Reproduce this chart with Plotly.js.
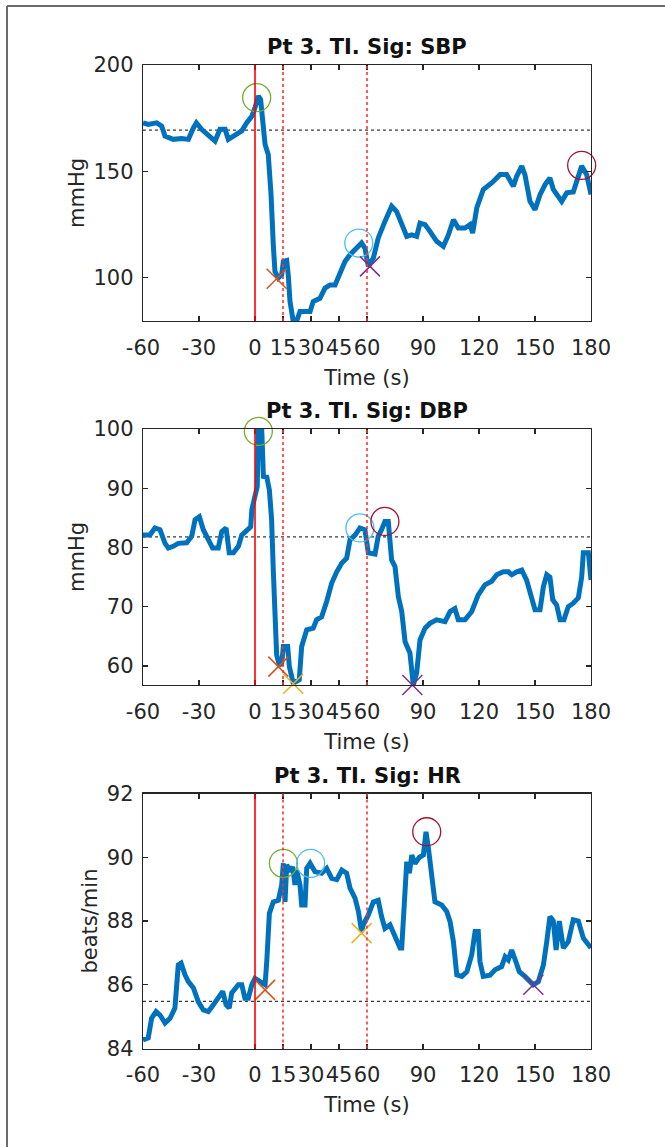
<!DOCTYPE html>
<html>
<head>
<meta charset="utf-8">
<script src="https://cdn.plot.ly/plotly-3.0.1.min.js"></script>
<style>
  html, body { margin: 0; padding: 0; background: #ffffff; }
  #chart { width: 665px; height: 1147px; }
</style>
</head>
<body>
<div id="chart"></div>
<script>
// ---------------- DATA ----------------
const xTickVals = [-60, -30, 0, 15, 30, 45, 60, 90, 120, 150, 180];
const xTickText = ['-60', '-30', '0', '15', '30', '45', '60', '90', '120', '150', '180'];
const xAxisTitle = 'Time (s)';

const panelTitles = ['Pt 3. TI. Sig: SBP', 'Pt 3. TI. Sig: DBP', 'Pt 3. TI. Sig: HR'];
const yAxisTitles = ['mmHg', 'mmHg', 'beats/min'];
const yRanges = [[79.5, 200], [56.8, 100], [84, 92]];
const yTickVals = [[100, 150, 200], [60, 70, 80, 90, 100], [84, 86, 88, 90, 92]];

// event lines (s)
const eventStart = 0;
const eventWindows = [15, 60];
// baseline levels
const baselines = [169.3, 81.8, 85.48];

// SBP
const sbpTime = [-60, -57.2, -52.7, -50, -48.2, -43.8, -39.3, -35.7, -33, -31.4,
  -28.6, -23.2, -21.4, -18.75, -16, -14.3, -9.8, -7.1, -4.4, -1.7,
  0, 1.8, 3.0, 4.1, 5.4, 7.1, 8.6, 9.8, 10.7, 12.5,
  14.3, 15.2, 17, 17.8, 18.75, 20.5, 22.3, 24.1, 26.8, 29.5,
  31.2, 34.8, 37.5, 40.2, 42.9, 45.5, 48.2, 50.9, 54.5, 57.1,
  58.9, 60.7, 63.4, 66, 69.6, 73.2, 75.9, 78.6, 81.3, 83.9,
  86.6, 88.4, 91.1, 93.7, 97.3, 100.9, 103.6, 106.3, 108.9, 112.5,
  115.2, 116.6, 118.8, 122.3, 126.8, 131.3, 134.8, 138.4, 140.2, 142.9,
  144.6, 147.3, 150, 152.7, 155.4, 158, 159.8, 164.3, 167, 170.5,
  173.2, 175, 177.7, 180];
const sbpValue = [172.8, 172, 172.8, 171.2, 166.5, 165, 165.4, 165, 170.4, 172.8,
  169.7, 165, 164.2, 169.7, 169.7, 165, 167.3, 169, 172.8, 175.9,
  179.9, 185.4, 183.8, 172, 162.6, 157.9, 139, 115.4, 102.8, 99.7,
  101.3, 107.5, 108, 101.3, 88.7, 79.2, 79.5, 84, 84, 84,
  88.7, 90.2, 95, 96.5, 96.5, 101.3, 107.5, 110.7, 113.8, 116.2,
  113.8, 105.2, 109.1, 118.5, 126.4, 133.5, 131, 124.9, 119.3, 120,
  119.3, 125.6, 124.9, 121.7, 117, 114.6, 120, 127.2, 123.3, 123.3,
  124.9, 120.9, 132.7, 141.4, 144.5, 148.4, 148.4, 142.9, 147.6, 152.4,
  148.4, 135.8, 131.9, 139, 143.7, 146.8, 141.4, 135.8, 139.8, 140.2,
  148.4, 152.4, 148.4, 139];

// DBP
const dbpTime = [-60, -56.3, -53.6, -50.9, -48.2, -46.4, -43.8, -41.1, -36.6, -33.9,
  -32.1, -29.8, -27.7, -25, -22.7, -19.7, -17.8, -15.5, -13.8, -11.6,
  -8.9, -7.1, -4.4, -2.3, -1.7, 0, 1.2, 1.8, 3.6, 4.5,
  6.3, 7.7, 8.9, 9.8, 10.7, 11.6, 13, 14.3, 15.2, 17.5,
  18.4, 20.5, 23.7, 25, 27.7, 31.2, 33, 35.7, 38.4, 41.1,
  43.8, 46.5, 49.1, 50.9, 53.6, 56.2, 58.9, 60.7, 64.3, 66,
  67.8, 69.6, 71.4, 73.2, 75, 76.8, 78.6, 80.4, 83, 84.8,
  86.6, 88.4, 91.1, 93.7, 97.3, 101.8, 104.5, 107.1, 108.9, 112.5,
  116.1, 119.6, 123.2, 126.8, 129.5, 133, 135.7, 137.5, 140.2, 142.9,
  145.5, 148.2, 150, 152.7, 154.5, 156.3, 158, 159.5, 161.6, 163.4,
  165.5, 167.8, 170.5, 173.2, 175, 175.9, 178.6, 180];
const dbpValue = [82.1, 82.1, 83.3, 83, 80.7, 79.9, 80.2, 80.7, 80.8, 81.9,
  84.7, 85.2, 83, 81.3, 79.9, 79.9, 82.7, 83.3, 79.1, 79.1,
  80.2, 82.1, 83, 83.5, 86.4, 88.6, 90.3, 100, 100, 92,
  91.9, 89.7, 84.7, 76.2, 67.8, 61.9, 60.2, 60.4, 63.3, 63.3,
  59.9, 57.1, 57.7, 63.3, 66.1, 66.4, 67.8, 68.3, 70.9, 74,
  75.9, 77.4, 78.2, 81.3, 82.1, 83.3, 83, 79.1, 78.9, 81.9,
  83, 84.4, 84.4, 77.9, 76.8, 71.7, 69.2, 64.1, 62.2, 56.8,
  58.8, 64.4, 66.4, 67.2, 67.8, 67.5, 69.2, 69.7, 67.8, 67.8,
  69.2, 72, 73.7, 74.3, 75.4, 75.9, 75.9, 75.4, 75.9, 76.2,
  74.5, 71.2, 69.5, 69.5, 73.4, 75.4, 75, 71.2, 70.3, 67.8,
  67.8, 70, 70.6, 71.5, 75, 79.1, 79.1, 74.5];

// HR
const hrTime = [-60, -57.2, -55.4, -53, -50.9, -48.2, -45.5, -42.9, -41.1, -39.6,
  -37.5, -35.7, -33, -30.4, -27.7, -25, -22.3, -19.7, -17.3, -15.5,
  -13.8, -12.5, -10.7, -8.9, -7.1, -5.4, -3.6, -1.7, 0, 2.7,
  5.4, 6.3, 7.7, 9.8, 12.5, 14.3, 15.2, 16.1, 17, 18.8,
  20.2, 21.4, 22.3, 24.1, 25, 26.8, 27.7, 29.5, 32.1, 35.7,
  38.4, 41.1, 43.8, 46.5, 49.1, 50.9, 53.6, 55.4, 57.1, 58,
  60.7, 63.4, 66, 67.8, 69.6, 72.3, 74, 75.9, 77.7, 78.6,
  79.5, 81.3, 82.7, 84, 85.7, 88.1, 90.2, 91.6, 92.9, 94.6,
  96.4, 100, 102.7, 104.5, 106.3, 108.1, 110.8, 113.5, 116.1, 117.9,
  119.6, 120.5, 122.3, 125.9, 128.6, 132.1, 134, 135.7, 137.5, 139.3,
  141.6, 144.6, 147.3, 149.1, 151.8, 154.5, 156.3, 158, 159.8, 161.3,
  163, 165.2, 167.8, 170.5, 173.2, 175.9, 180];
const hrValue = [84.27, 84.33, 84.95, 85.16, 85.05, 84.8, 84.95, 85.27, 86.62, 86.68,
  86.31, 86.1, 85.9, 85.47, 85.21, 85.16, 85.37, 85.58, 85.79, 85.37,
  85.27, 85.74, 85.9, 86.0, 86.0, 85.58, 85.58, 86.0, 86.2, 86.1,
  86.0, 86.73, 88.24, 88.6, 88.65, 89.13, 89.81, 88.6, 89.76, 89.55,
  89.7, 89.13, 89.6, 89.13, 88.5, 88.5, 89.65, 89.81, 89.55, 89.5,
  89.65, 89.34, 89.3, 89.6, 89.5, 89.03, 88.72, 88.3, 87.67, 87.88,
  88.19, 88.6, 88.65, 88.14, 87.77, 87.88, 87.67, 87.46, 87.15, 87.15,
  88.09, 89.86, 89.5, 90.07, 89.8, 90.0, 90.07, 90.8, 90.28, 89.34,
  88.6, 88.5, 88.3, 87.98, 87.35, 86.31, 86.26, 86.41, 86.94, 87.67,
  87.67, 86.73, 86.26, 86.3, 86.47, 86.57, 86.88, 86.78, 87.09, 86.8,
  86.41, 86.26, 86.1, 86.0, 86.1, 86.62, 87.35, 88.14, 88.0, 87.09,
  88.0, 87.15, 87.35, 88.04, 88.0, 87.46, 87.15];

// Feature markers: circles (green, light blue, dark red), crosses (orange, yellow, purple)
const sbpCircleT = [0.9, 55.6, 175];
const sbpCircleV = [184.6, 116.2, 152.8];
const sbpCrossT = [11.6, 20.9, 61.6];
const sbpCrossV = [99.4, 79.0, 105.2];

const dbpCircleT = [1.8, 56.2, 69.6];
const dbpCircleV = [99.6, 83.3, 84.4];
const dbpCrossT = [12.5, 20.5, 84.3];
const dbpCrossV = [59.9, 57.0, 56.8];

const hrCircleT = [15.2, 29.8, 92.0];
const hrCircleV = [89.81, 89.81, 90.8];
const hrCrossT = [5.4, 57.1, 149.1];
const hrCrossV = [85.84, 87.62, 86.0];

const circleColors = ['#77AC30', '#4DBEEE', '#A2142F'];
const crossColors = ['#D95319', '#EDB120', '#7E2F8E'];

// ---------------- LAYOUT HELPERS ----------------
const W = 665, H = 1147;
const px = v => v / W;
const py = v => 1 - v / H;
const axLeft = 143, axRight = 591;
const panelPx = [[65, 321], [429, 685], [793.5, 1048.5]]; // top, bottom in px

const seriesT = [sbpTime, dbpTime, hrTime];
const seriesV = [sbpValue, dbpValue, hrValue];
const circT = [sbpCircleT, dbpCircleT, hrCircleT];
const circV = [sbpCircleV, dbpCircleV, hrCircleV];
const crossT = [sbpCrossT, dbpCrossT, hrCrossT];
const crossV = [sbpCrossV, dbpCrossV, hrCrossV];

const FONT = 'DejaVu Sans, Arial, sans-serif';
const AXC = '#262626';

const traces = [];
const shapes = [];
const annotations = [];
const layout = {
  width: W, height: H,
  margin: {l: 0, r: 0, t: 0, b: 0},
  paper_bgcolor: '#ffffff',
  plot_bgcolor: '#ffffff',
  showlegend: false,
  font: {family: FONT, color: AXC, size: 21}
};

for (let i = 0; i < 3; i++) {
  const sfx = i === 0 ? '' : String(i + 1);
  const xa = 'x' + sfx, ya = 'y' + sfx;
  const [top, bot] = panelPx[i];

  layout['xaxis' + sfx] = {
    domain: [px(axLeft), px(axRight)],
    anchor: ya,
    range: [-60, 180],
    tickmode: 'array', tickvals: xTickVals, ticktext: xTickText,
    tickangle: 0,
    ticks: 'inside', ticklen: 5, tickwidth: 1.2, tickcolor: AXC,
    showline: true, linecolor: AXC, linewidth: 1.3, mirror: 'ticks',
    showgrid: false, zeroline: false,
    tickfont: {family: FONT, size: 21, color: AXC},
    ticklabelstandoff: 7,
    title: {text: xAxisTitle, font: {family: FONT, size: 21, color: AXC}, standoff: 11},
    automargin: false, fixedrange: true
  };
  layout['yaxis' + sfx] = {
    domain: [py(bot), py(top)],
    anchor: xa,
    range: yRanges[i],
    tickmode: 'array', tickvals: yTickVals[i],
    ticks: 'inside', ticklen: 5, tickwidth: 1.2, tickcolor: AXC,
    showline: true, linecolor: AXC, linewidth: 1.3, mirror: 'ticks',
    showgrid: false, zeroline: false,
    tickfont: {family: FONT, size: 21, color: AXC},
    ticklabelstandoff: 4,
    title: {text: yAxisTitles[i], font: {family: FONT, size: 21, color: AXC}, standoff: 3},
    automargin: false, fixedrange: true
  };

  // baseline (dotted)
  traces.push({
    x: [-60, 180], y: [baselines[i], baselines[i]],
    xaxis: xa, yaxis: ya, mode: 'lines', hoverinfo: 'skip',
    line: {color: '#3a3a3a', width: 1.3, dash: 'dot'}
  });
  // main signal
  traces.push({
    x: seriesT[i], y: seriesV[i],
    xaxis: xa, yaxis: ya, mode: 'lines',
    line: {color: '#0072BD', width: 5, shape: 'linear'}
  });
  // circles
  traces.push({
    x: circT[i], y: circV[i], xaxis: xa, yaxis: ya, mode: 'markers',
    cliponaxis: false,
    marker: {symbol: 'circle-open', size: 28, color: circleColors, line: {width: 1.3, color: circleColors}}
  });
  // crosses
  traces.push({
    x: crossT[i], y: crossV[i], xaxis: xa, yaxis: ya, mode: 'markers',
    cliponaxis: false,
    marker: {symbol: 'x-thin-open', size: 20, color: crossColors, line: {width: 1.5, color: crossColors}}
  });

  // event lines
  shapes.push({type: 'line', xref: xa, yref: ya + ' domain', x0: eventStart, x1: eventStart, y0: 0, y1: 1,
    line: {color: '#FF0000', width: 1.6}, layer: 'above'});
  eventWindows.forEach(t => shapes.push({type: 'line', xref: xa, yref: ya + ' domain', x0: t, x1: t, y0: 0, y1: 1,
    line: {color: '#FF3030', width: 1.6, dash: 'dot'}, layer: 'above'}));

  // panel title
  annotations.push({
    text: '<b>' + panelTitles[i] + '</b>',
    xref: 'paper', yref: 'paper',
    x: px((axLeft + axRight) / 2), y: py(top - 18),
    xanchor: 'center', yanchor: 'middle', showarrow: false,
    font: {family: FONT, size: 21, color: '#111111'}
  });
}

// outer figure frame
shapes.push({type: 'line', xref: 'paper', yref: 'paper', x0: px(7), x1: px(7), y0: 0, y1: py(6),
  line: {color: '#6b6b6b', width: 2}});
shapes.push({type: 'line', xref: 'paper', yref: 'paper', x0: px(7), x1: 1, y0: py(6), y1: py(6),
  line: {color: '#6b6b6b', width: 2}});

layout.shapes = shapes;
layout.annotations = annotations;

Plotly.newPlot('chart', traces, layout, {displayModeBar: false, staticPlot: true});
</script>
</body>
</html>
